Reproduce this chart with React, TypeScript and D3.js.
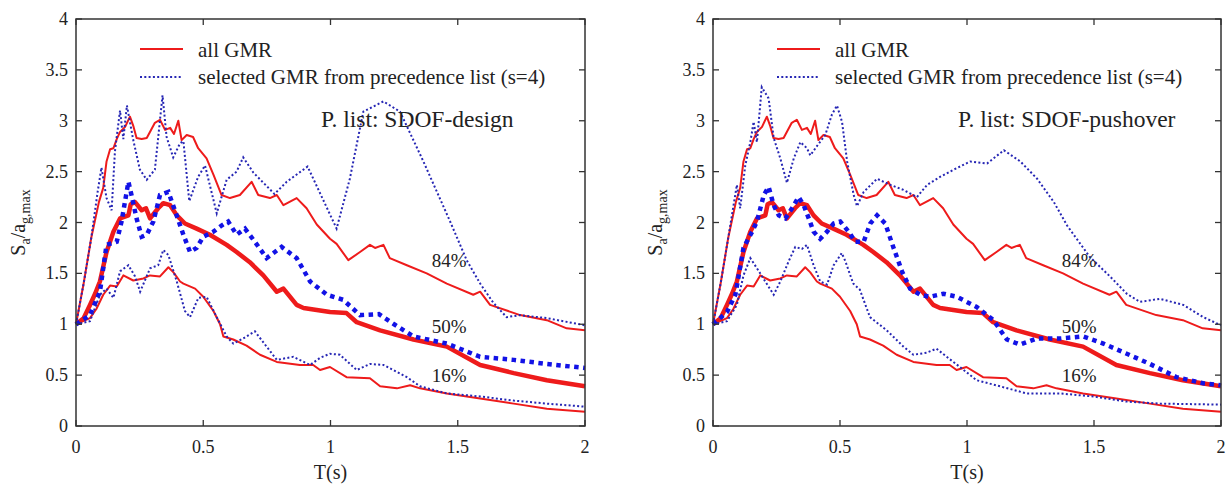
import React from 'react'
import * as d3 from 'd3'

type Pt = [number, number]

// percentiles of all GMR (same in both panels)
const allP84: Pt[] = [[0, 1.0], [0.03, 1.4], [0.06, 1.85], [0.09, 2.2], [0.107, 2.34], [0.12, 2.6], [0.134, 2.72], [0.147, 2.73], [0.16, 2.82], [0.173, 2.89], [0.193, 2.94], [0.212, 3.04], [0.225, 2.95], [0.238, 2.83], [0.258, 2.82], [0.278, 2.83], [0.31, 2.98], [0.33, 3.01], [0.35, 2.91], [0.37, 2.93], [0.385, 2.87], [0.402, 3.0], [0.415, 2.81], [0.435, 2.86], [0.46, 2.84], [0.48, 2.73], [0.513, 2.63], [0.54, 2.47], [0.572, 2.27], [0.605, 2.24], [0.644, 2.27], [0.69, 2.4], [0.716, 2.27], [0.762, 2.24], [0.789, 2.27], [0.815, 2.17], [0.867, 2.24], [0.906, 2.14], [0.946, 1.98], [0.998, 1.84], [1.024, 1.79], [1.07, 1.63], [1.116, 1.71], [1.155, 1.78], [1.175, 1.75], [1.208, 1.78], [1.233, 1.65], [1.3, 1.58], [1.378, 1.5], [1.457, 1.4], [1.561, 1.29], [1.588, 1.32], [1.627, 1.19], [1.745, 1.09], [1.85, 1.04], [1.928, 0.96], [2.0, 0.94]]
const allP50: Pt[] = [[0, 1.0], [0.03, 1.06], [0.055, 1.19], [0.075, 1.3], [0.094, 1.42], [0.12, 1.71], [0.147, 1.91], [0.173, 2.04], [0.206, 2.07], [0.215, 2.18], [0.232, 2.2], [0.258, 2.12], [0.275, 2.14], [0.291, 2.04], [0.323, 2.14], [0.343, 2.19], [0.37, 2.17], [0.396, 2.07], [0.428, 1.99], [0.474, 1.94], [0.526, 1.88], [0.592, 1.78], [0.631, 1.71], [0.683, 1.61], [0.736, 1.48], [0.789, 1.32], [0.815, 1.35], [0.867, 1.19], [0.894, 1.16], [0.946, 1.14], [0.998, 1.12], [1.063, 1.11], [1.103, 1.02], [1.195, 0.94], [1.326, 0.85], [1.457, 0.78], [1.588, 0.6], [1.72, 0.52], [1.85, 0.45], [2.0, 0.39]]
const allP16: Pt[] = [[0, 1.0], [0.055, 1.06], [0.08, 1.15], [0.107, 1.29], [0.134, 1.38], [0.16, 1.37], [0.186, 1.48], [0.225, 1.43], [0.265, 1.45], [0.291, 1.48], [0.33, 1.47], [0.363, 1.56], [0.383, 1.51], [0.409, 1.42], [0.422, 1.4], [0.468, 1.35], [0.5, 1.27], [0.54, 1.13], [0.566, 1.0], [0.579, 0.88], [0.618, 0.85], [0.67, 0.79], [0.723, 0.7], [0.789, 0.63], [0.88, 0.6], [0.932, 0.6], [0.959, 0.55], [0.998, 0.58], [1.063, 0.48], [1.155, 0.47], [1.195, 0.39], [1.261, 0.37], [1.313, 0.4], [1.352, 0.37], [1.457, 0.32], [1.588, 0.27], [1.72, 0.22], [1.85, 0.17], [2.0, 0.14]]

// selected GMR, precedence list SDOF-design
const designP84: Pt[] = [[0, 1.0], [0.03, 1.4], [0.06, 1.85], [0.085, 2.3], [0.1, 2.54], [0.12, 2.24], [0.14, 2.12], [0.153, 2.7], [0.173, 3.1], [0.186, 2.82], [0.2, 3.15], [0.225, 2.81], [0.251, 2.52], [0.278, 2.42], [0.31, 2.52], [0.34, 3.25], [0.356, 2.84], [0.382, 2.64], [0.409, 2.78], [0.422, 2.8], [0.445, 2.21], [0.48, 2.45], [0.507, 2.56], [0.553, 2.09], [0.592, 2.42], [0.631, 2.5], [0.657, 2.64], [0.697, 2.49], [0.78, 2.28], [0.828, 2.4], [0.91, 2.55], [1.024, 1.94], [1.076, 2.43], [1.129, 3.09], [1.208, 3.19], [1.273, 3.09], [1.365, 2.6], [1.47, 2.01], [1.535, 1.63], [1.588, 1.4], [1.64, 1.21], [1.692, 1.07], [1.745, 1.09], [1.85, 1.06], [2.0, 0.99]]
const designP50: Pt[] = [[0, 1.0], [0.055, 1.09], [0.094, 1.32], [0.12, 1.78], [0.16, 1.81], [0.179, 2.01], [0.206, 2.4], [0.218, 2.27], [0.238, 2.04], [0.258, 1.86], [0.278, 1.88], [0.304, 2.01], [0.33, 2.27], [0.363, 2.3], [0.39, 2.11], [0.422, 1.88], [0.448, 1.71], [0.474, 1.75], [0.5, 1.86], [0.54, 1.91], [0.572, 1.97], [0.598, 2.01], [0.631, 1.88], [0.664, 1.94], [0.703, 1.81], [0.749, 1.65], [0.808, 1.76], [0.867, 1.65], [0.92, 1.42], [0.986, 1.29], [1.05, 1.24], [1.116, 1.09], [1.19, 1.1], [1.25, 1.0], [1.326, 0.88], [1.457, 0.81], [1.588, 0.68], [1.72, 0.65], [1.85, 0.61], [2.0, 0.57]]
const designP16: Pt[] = [[0, 1.0], [0.055, 1.03], [0.094, 1.29], [0.12, 1.35], [0.147, 1.26], [0.173, 1.52], [0.206, 1.58], [0.232, 1.47], [0.252, 1.32], [0.291, 1.55], [0.323, 1.58], [0.343, 1.73], [0.363, 1.68], [0.396, 1.42], [0.428, 1.13], [0.448, 1.07], [0.481, 1.26], [0.513, 1.27], [0.553, 1.07], [0.592, 0.88], [0.618, 0.81], [0.657, 0.86], [0.703, 0.93], [0.749, 0.78], [0.789, 0.65], [0.854, 0.68], [0.92, 0.6], [0.959, 0.67], [0.998, 0.71], [1.037, 0.7], [1.103, 0.55], [1.155, 0.61], [1.208, 0.6], [1.3, 0.48], [1.352, 0.39], [1.457, 0.32], [1.588, 0.29], [1.72, 0.25], [1.85, 0.22], [2.0, 0.19]]

// selected GMR, precedence list SDOF-pushover
const pushP84: Pt[] = [[0, 1.0], [0.03, 1.4], [0.06, 1.85], [0.094, 2.37], [0.107, 2.14], [0.127, 2.56], [0.147, 2.79], [0.16, 2.99], [0.173, 2.79], [0.192, 3.33], [0.219, 3.22], [0.239, 2.83], [0.265, 2.63], [0.291, 2.39], [0.318, 2.63], [0.344, 2.79], [0.37, 2.73], [0.383, 2.66], [0.409, 2.75], [0.442, 2.86], [0.468, 3.06], [0.488, 3.15], [0.508, 2.99], [0.528, 2.6], [0.554, 2.27], [0.567, 2.16], [0.593, 2.3], [0.646, 2.43], [0.698, 2.37], [0.75, 2.32], [0.803, 2.25], [0.843, 2.37], [0.895, 2.45], [0.948, 2.52], [1.013, 2.6], [1.079, 2.58], [1.145, 2.71], [1.21, 2.6], [1.276, 2.43], [1.342, 2.2], [1.394, 1.97], [1.484, 1.66], [1.563, 1.47], [1.629, 1.3], [1.681, 1.22], [1.76, 1.25], [1.852, 1.19], [1.93, 1.07], [2.0, 0.99]]
const pushP50: Pt[] = [[0, 1.0], [0.055, 1.12], [0.088, 1.29], [0.12, 1.75], [0.154, 1.91], [0.173, 2.01], [0.2, 2.27], [0.219, 2.35], [0.239, 2.17], [0.259, 2.07], [0.285, 2.04], [0.311, 2.14], [0.337, 2.25], [0.357, 2.17], [0.377, 2.04], [0.396, 1.91], [0.422, 1.84], [0.449, 1.91], [0.475, 1.99], [0.501, 2.01], [0.534, 1.91], [0.56, 1.81], [0.593, 1.81], [0.619, 1.99], [0.646, 2.07], [0.678, 1.99], [0.711, 1.75], [0.744, 1.52], [0.776, 1.35], [0.816, 1.29], [0.854, 1.27], [0.907, 1.3], [0.96, 1.27], [1.038, 1.17], [1.104, 1.04], [1.157, 0.85], [1.209, 0.8], [1.275, 0.86], [1.366, 0.86], [1.458, 0.88], [1.537, 0.81], [1.629, 0.71], [1.72, 0.61], [1.825, 0.48], [1.93, 0.42], [2.0, 0.4]]
const pushP16: Pt[] = [[0, 1.0], [0.055, 1.03], [0.094, 1.19], [0.12, 1.48], [0.147, 1.65], [0.173, 1.55], [0.206, 1.42], [0.239, 1.29], [0.265, 1.42], [0.298, 1.62], [0.324, 1.76], [0.35, 1.74], [0.37, 1.78], [0.396, 1.58], [0.422, 1.42], [0.449, 1.39], [0.475, 1.58], [0.507, 1.7], [0.521, 1.62], [0.552, 1.4], [0.578, 1.34], [0.618, 1.07], [0.684, 0.94], [0.75, 0.78], [0.789, 0.7], [0.841, 0.72], [0.88, 0.76], [0.92, 0.68], [0.972, 0.58], [1.038, 0.45], [1.13, 0.39], [1.235, 0.32], [1.366, 0.32], [1.497, 0.29], [1.629, 0.24], [1.76, 0.22], [2.0, 0.21]]

const xTicks = [0, 0.5, 1, 1.5, 2]
const xTickLabels = ['0', '0.5', '1', '1.5', '2']
const yTicks = [0, 0.5, 1, 1.5, 2, 2.5, 3, 3.5, 4]
const yTickLabels = ['0', '0.5', '1', '1.5', '2', '2.5', '3', '3.5', '4']
const pctLabels = ['84%', '50%', '16%']
const pctLevels = [1.566, 0.914, 0.435]
const legendLabels = ['all GMR', 'selected GMR from precedence list (s=4)']

const RED = '#ee1b1b'
const BLUE_THIN = '#2626b4'
const BLUE_THICK = '#1212e6'
const FONT = '"Liberation Serif", "Times New Roman", serif'

const panels = [
  { x0: 76, x1: 585, title: 'P. list: SDOF-design', sel: [designP84, designP50, designP16], pctT: 1.398 },
  { x0: 713, x1: 1221, title: 'P. list: SDOF-pushover', sel: [pushP84, pushP50, pushP16], pctT: 1.373 },
]

function Panel({ p }: { p: typeof panels[0] }) {
  const top = 19, bottom = 426
  const x = d3.scaleLinear().domain([0, 2]).range([p.x0, p.x1])
  const y = d3.scaleLinear().domain([0, 4]).range([bottom, top])
  const line = d3.line<Pt>().x(d => x(d[0])).y(d => y(d[1]))
  const tk = 6

  const allCurves = [allP84, allP50, allP16]
  return (
    <g fontFamily={FONT} fill="#222">
      {/* red: all GMR */}
      {allCurves.map((c, i) => (
        <path key={'r' + i} d={line(c) || ''} fill="none" stroke={RED}
          strokeWidth={i === 1 ? 4.5 : 2} strokeLinejoin="round" />
      ))}
      {/* blue: selected GMR */}
      {p.sel.map((c, i) => (
        <path key={'b' + i} d={line(c) || ''} fill="none"
          stroke={i === 1 ? BLUE_THICK : BLUE_THIN}
          strokeWidth={i === 1 ? 4.5 : 2}
          strokeDasharray={i === 1 ? '4.5,4.5' : '2,2.3'} />
      ))}

      {/* frame */}
      <rect x={p.x0} y={top} width={p.x1 - p.x0} height={bottom - top} fill="none" stroke="#333" strokeWidth={1.5} />
      {xTicks.map((t, i) => (
        <g key={'x' + i}>
          <line x1={x(t)} x2={x(t)} y1={bottom} y2={bottom - tk} stroke="#333" strokeWidth={1.3} />
          <line x1={x(t)} x2={x(t)} y1={top} y2={top + tk} stroke="#333" strokeWidth={1.3} />
          <text x={x(t)} y={453} textAnchor="middle" fontSize={18}>{xTickLabels[i]}</text>
        </g>
      ))}
      {yTicks.map((t, i) => (
        <g key={'y' + i}>
          <line x1={p.x0} x2={p.x0 + tk} y1={y(t)} y2={y(t)} stroke="#333" strokeWidth={1.3} />
          <line x1={p.x1} x2={p.x1 - tk} y1={y(t)} y2={y(t)} stroke="#333" strokeWidth={1.3} />
          <text x={p.x0 - 8} y={y(t) + 6} textAnchor="end" fontSize={18}>{yTickLabels[i]}</text>
        </g>
      ))}
      <text x={x(1)} y={479} textAnchor="middle" fontSize={20}>T(s)</text>
      <text transform={`translate(${p.x0 - 51},${(top + bottom) / 2}) rotate(-90)`} textAnchor="middle" fontSize={20}>
        <tspan>S</tspan>
        <tspan fontSize={14} dy={5}>a</tspan>
        <tspan dy={-5}>/a</tspan>
        <tspan fontSize={14} dy={5}>g,max</tspan>
      </text>

      {/* legend */}
      <line x1={p.x0 + 64} x2={p.x0 + 107} y1={49} y2={49} stroke={RED} strokeWidth={2} />
      <text x={p.x0 + 122} y={57} fontSize={21}>{legendLabels[0]}</text>
      <line x1={p.x0 + 64} x2={p.x0 + 107} y1={77} y2={77} stroke={BLUE_THIN} strokeWidth={2} strokeDasharray="2,2.3" />
      <text x={p.x0 + 122} y={84} fontSize={21}>{legendLabels[1]}</text>

      <text x={p.x0 + 245} y={127} fontSize={23.5}>{p.title}</text>

      {pctLabels.map((l, i) => (
        <text key={'p' + i} x={x(p.pctT)} y={y(pctLevels[i])} fontSize={19}>{l}</text>
      ))}
    </g>
  )
}

export default function App() {
  return (
    <svg width={1231} height={487} style={{ position: 'absolute', left: 0, top: 0, background: '#fff' }}>
      <rect width={1231} height={487} fill="#fff" />
      {panels.map((p, i) => <Panel key={i} p={p} />)}
    </svg>
  )
}
